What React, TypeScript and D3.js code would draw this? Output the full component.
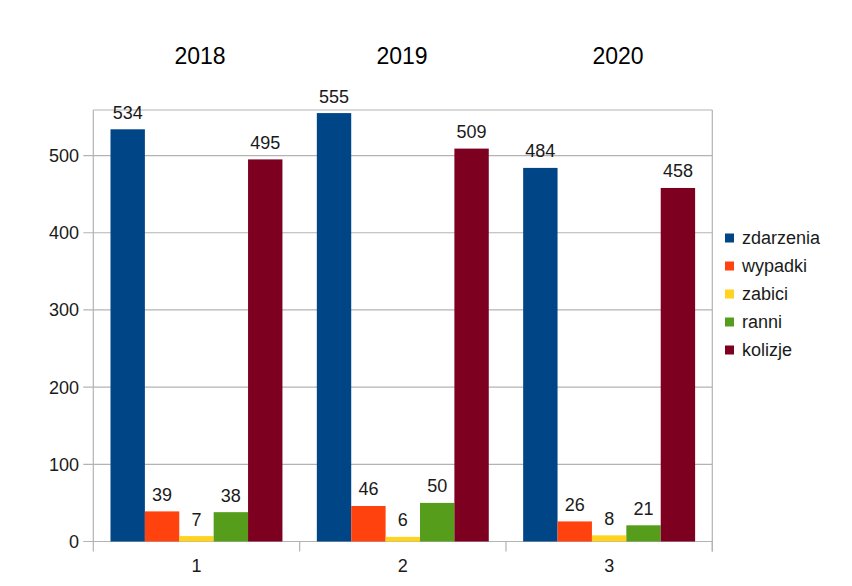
import React from "react";
import * as d3 from "d3";

const categories = ["1", "2", "3"];
const years = ["2018", "2019", "2020"];
const seriesNames = ["zdarzenia", "wypadki", "zabici", "ranni", "kolizje"];
const zdarzenia = [534, 555, 484];
const wypadki = [39, 46, 26];
const zabici = [7, 6, 8];
const ranni = [38, 50, 21];
const kolizje = [495, 509, 458];
const yTicks = [0, 100, 200, 300, 400, 500];
const colors = ["#004586", "#ff420e", "#ffd320", "#579d1c", "#7e0021"];

const seriesValues = [zdarzenia, wypadki, zabici, ranni, kolizje];

export default function App() {
  const W = 852, H = 586;
  const left = 93.3, right = 712.3, top = 110, bottom = 541.5;
  const font = "'Liberation Sans', Arial, sans-serif";
  const fs = 18;

  const x0 = d3.scaleBand<string>().domain(categories).range([left, right]).paddingInner(0).paddingOuter(0);
  const x1 = d3.scaleBand<string>().domain(seriesNames).range([0, x0.bandwidth()]).paddingInner(0).paddingOuter(0.5);
  const y = d3.scaleLinear().domain([0, 559]).range([bottom, top]);

  const boundaries = [left, ...categories.map((c) => (x0(c) as number) + x0.bandwidth())];
  const yearX = [200, 402, 618];

  return (
    <svg width={W} height={H} style={{ position: "absolute", left: 0, top: 0, background: "#fff" }} fontFamily={font}>
      {yTicks.map((t) => (
        <line key={"g" + t} x1={left - 10} x2={right} y1={y(t)} y2={y(t)} stroke="#b3b3b3" strokeWidth={1.2} />
      ))}
      <line x1={left} x2={right} y1={top} y2={top} stroke="#b3b3b3" strokeWidth={1.2} />
      <line x1={right} x2={right} y1={top} y2={bottom + 10} stroke="#b3b3b3" strokeWidth={1.2} />
      {boundaries.map((b, i) => (
        <line key={"b" + i} x1={b} x2={b} y1={i === 0 ? top : bottom} y2={bottom + 10} stroke="#b3b3b3" strokeWidth={1.2} />
      ))}
      {yTicks.map((t) => (
        <text key={"t" + t} x={79} y={y(t)} dy="0.36em" textAnchor="end" fontSize={fs} fill="#1a1a1a">
          {t}
        </text>
      ))}
      {categories.map((c, ci) =>
        seriesNames.map((s, si) => {
          const v = seriesValues[si][ci];
          const bx = (x0(c) as number) + (x1(s) as number);
          return (
            <g key={c + s}>
              <rect x={bx} y={y(v)} width={x1.bandwidth()} height={y(0) - y(v)} fill={colors[si]} />
              <text x={bx + x1.bandwidth() / 2} y={y(v) - 10.5} textAnchor="middle" fontSize={fs} fill="#1a1a1a">
                {v}
              </text>
            </g>
          );
        })
      )}
      {categories.map((c) => (
        <text key={"x" + c} x={(x0(c) as number) + x0.bandwidth() / 2} y={572} textAnchor="middle" fontSize={fs} fill="#1a1a1a">
          {c}
        </text>
      ))}
      {years.map((yr, i) => (
        <text key={yr} x={yearX[i]} y={64} textAnchor="middle" fontSize={23} fill="#000">
          {yr}
        </text>
      ))}
      {seriesNames.map((s, i) => {
        const cy = 238 + i * 28;
        return (
          <g key={"l" + s}>
            <rect x={725} y={cy - 4.5} width={9} height={9} fill={colors[i]} />
            <text x={742} y={cy} dy="0.36em" fontSize={fs} fill="#1a1a1a">
              {s}
            </text>
          </g>
        );
      })}
    </svg>
  );
}
